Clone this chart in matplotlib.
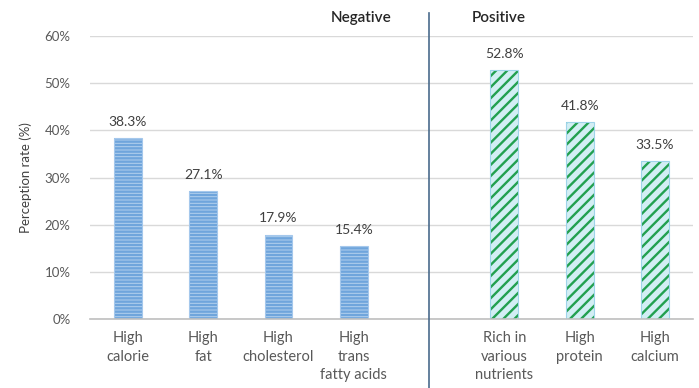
import matplotlib
matplotlib.use("Agg")
import matplotlib.pyplot as plt
from matplotlib.ticker import PercentFormatter

plt.rcParams['font.family'] = ['Lato', 'DejaVu Sans']
plt.rcParams['hatch.linewidth'] = 1.7

# perception rates, negative attributes then positive attributes
neg_labels = ["High\ncalorie", "High\nfat", "High\ncholesterol", "High\ntrans\nfatty acids"]
neg_values = [38.3, 27.1, 17.9, 15.4]
pos_labels = ["Rich in\nvarious\nnutrients", "High\nprotein", "High\ncalcium"]
pos_values = [52.8, 41.8, 33.5]

neg_x = list(range(len(neg_values)))
gap = len(neg_values)  # empty slot holding the divider
pos_x = [gap + 1 + i for i in range(len(pos_values))]

fig = plt.figure(figsize=(6.99, 3.88), dpi=100)
ax = fig.add_axes([0.129, 0.178, 0.862, 0.729])

w = 0.37
# negative bars: light blue with horizontal stripes
ax.bar(neg_x, neg_values, w, color="#b3d0ee", linewidth=0, zorder=2)
ax.bar(neg_x, neg_values, w, color="none", edgecolor="#6fa5dc",
       hatch="-----", linewidth=0, zorder=3)
ax.bar(neg_x, neg_values, w, color="none", edgecolor="#a5c8ec",
       linewidth=0.8, zorder=4)

# positive bars: pale cyan with green diagonal stripes
ax.bar(pos_x, pos_values, w, color="#d2eef4", linewidth=0, zorder=2)
ax.bar(pos_x, pos_values, w, color="none", edgecolor="#22a050",
       hatch="///", linewidth=0, zorder=3)
ax.bar(pos_x, pos_values, w, color="none", edgecolor="#9fd4ea",
       linewidth=0.8, zorder=4)

for x, v in zip(neg_x + pos_x, neg_values + pos_values):
    ax.text(x, v + 2.2, f"{v:.1f}%", ha="center", va="bottom",
            fontsize=10, color="#404040")

ax.set_xlim(-0.5, 7.5)
ax.set_ylim(0, 60)
ax.set_yticks(range(0, 61, 10))
ax.yaxis.set_major_formatter(PercentFormatter(decimals=0))
ax.set_xticks(neg_x + pos_x)
ax.set_xticklabels(neg_labels + pos_labels, va="top", linespacing=1.4)
ax.tick_params(axis="x", length=0, pad=9, labelsize=10.5, labelcolor="#595959")
ax.tick_params(axis="y", length=0, pad=14, labelsize=9.5, labelcolor="#595959")

ax.grid(axis="y", color="#d9d9d9", linewidth=1, zorder=0)
for s in ["top", "right", "left"]:
    ax.spines[s].set_visible(False)
ax.spines["bottom"].set_color("#bfbfbf")
ax.spines["bottom"].set_linewidth(1.2)
ax.spines["bottom"].set_zorder(5)

ax.set_ylabel("Perception rate (%)", fontsize=9.5, color="#404040", labelpad=9)

# divider between the two groups
ax.plot([gap, gap], [-15, 65], color="#4a6b8c", linewidth=1.2,
        clip_on=False, zorder=6)
ax.text(3.1, 63.8, "Negative", ha="center", va="center", fontsize=11,
        color="#262626", fontweight="semibold")
ax.text(4.93, 63.8, "Positive", ha="center", va="center", fontsize=11,
        color="#262626", fontweight="semibold")

fig.savefig("out.png", dpi=100)
